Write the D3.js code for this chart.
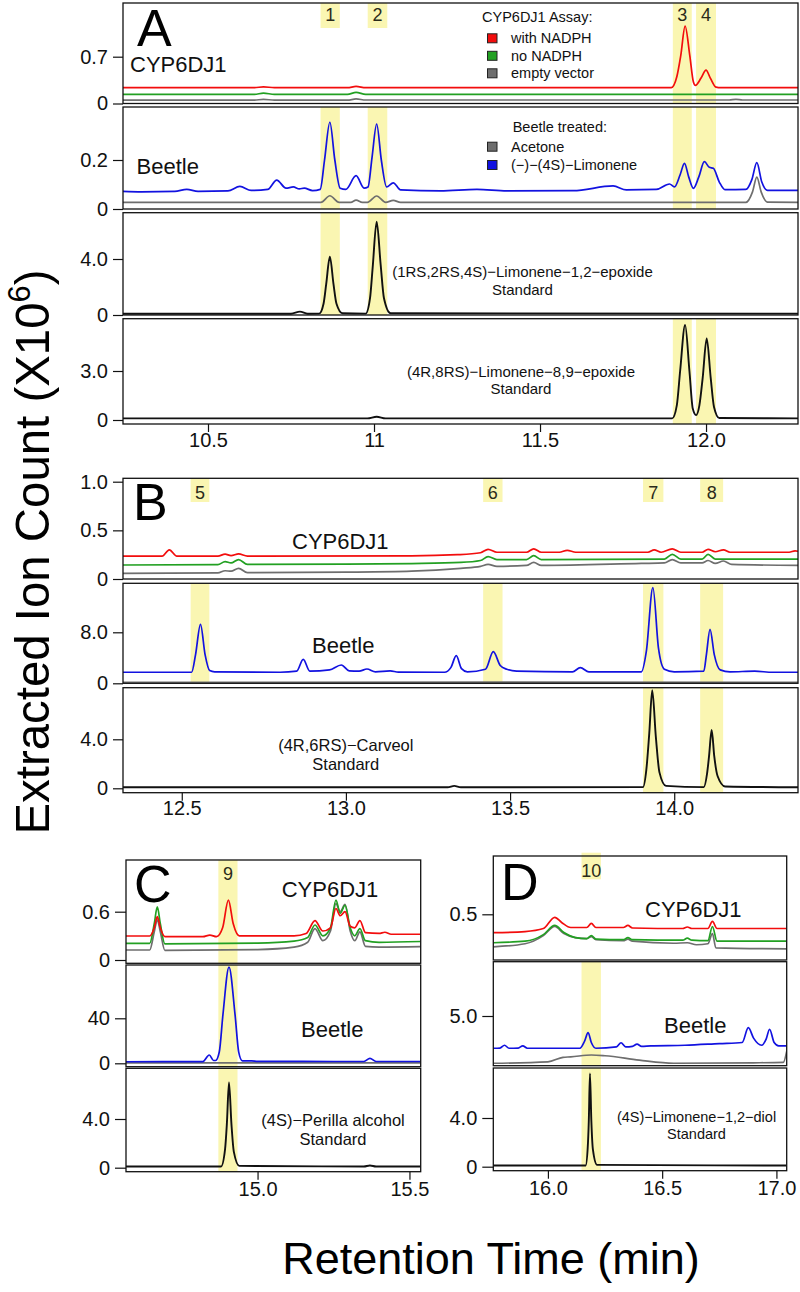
<!DOCTYPE html>
<html><head><meta charset="utf-8">
<script src="https://cdn.jsdelivr.net/npm/d3@7"></script>
<style>body{margin:0;background:#fff}svg{display:block}text{font-family:"Liberation Sans",Arial,Helvetica,sans-serif}</style>
</head><body><svg id="c" width="800" height="1292"></svg>
<script>
// ---------------- DATA ----------------
// x tick values / labels
const xTicksA = [10.5, 11, 11.5, 12.0], xLabA = ["10.5", "11", "11.5", "12.0"];
const xTicksB = [12.5, 13.0, 13.5, 14.0], xLabB = ["12.5", "13.0", "13.5", "14.0"];
const xTicksC = [15.0, 15.5], xLabC = ["15.0", "15.5"];
const xTicksD = [16.0, 16.5, 17.0], xLabD = ["16.0", "16.5", "17.0"];
// y tick values / labels per sub-panel
const yTicksA1 = [0, 0.7], yLabA1 = ["0", "0.7"];
const yTicksA2 = [0, 0.2], yLabA2 = ["0", "0.2"];
const yTicksA3 = [0, 4.0], yLabA3 = ["0", "4.0"];
const yTicksA4 = [0, 3.0], yLabA4 = ["0", "3.0"];
const yTicksB1 = [0, 0.5, 1.0], yLabB1 = ["0", "0.5", "1.0"];
const yTicksB2 = [0, 8.0], yLabB2 = ["0", "8.0"];
const yTicksB3 = [0, 4.0], yLabB3 = ["0", "4.0"];
const yTicksC1 = [0, 0.6], yLabC1 = ["0", "0.6"];
const yTicksC2 = [0, 40], yLabC2 = ["0", "40"];
const yTicksC3 = [0, 4.0], yLabC3 = ["0", "4.0"];
const yTicksD1 = [0.5], yLabD1 = ["0.5"];
const yTicksD2 = [5.0], yLabD2 = ["5.0"];
const yTicksD3 = [0, 4.0], yLabD3 = ["0", "4.0"];

// highlighted peaks: labels and retention-time windows
const bandLabels = ["1", "2", "3", "4", "5", "6", "7", "8", "9", "10"];
const bandStart = [10.839, 10.981, 11.900, 11.970, 12.527, 13.418, 13.905, 14.079, 14.871, 16.147];
const bandEnd   = [10.897, 11.040, 11.957, 12.030, 12.584, 13.477, 13.967, 14.149, 14.934, 16.232];

// legend
const assayNames = ["with NADPH", "no NADPH", "empty vector"];
const beetleNames = ["Acetone", "(\u2212)\u2212(4S)\u2212Limonene"];

// ---- Panel A traces [time (min), ion count (x10^6)] ----
const aCypRed = [[10.244,0.236],[10.64,0.236],[10.667,0.25],[10.70,0.236],[10.92,0.236],[10.946,0.255],[10.975,0.236],[11.895,0.236],[11.912,0.40],[11.924,0.72],[11.937,1.158],[11.951,0.72],[11.962,0.32],[11.968,0.27],[11.985,0.38],[12.0,0.50],[12.013,0.38],[12.03,0.245],[12.045,0.236],[12.277,0.236]];
const aCypGreen = [[10.244,0.137],[10.64,0.137],[10.667,0.155],[10.70,0.137],[10.92,0.137],[10.946,0.165],[10.975,0.137],[12.277,0.137]];
const aCypGray = [[10.244,0.05],[10.64,0.05],[10.667,0.062],[10.70,0.05],[10.92,0.05],[10.946,0.068],[10.975,0.052],[12.07,0.052],[12.09,0.062],[12.11,0.052],[12.277,0.052]];
const aBeetleBlue = [[10.244,0.072],[10.30,0.070],[10.40,0.072],[10.436,0.08],[10.47,0.072],[10.56,0.074],[10.596,0.092],[10.63,0.076],[10.68,0.08],[10.707,0.118],[10.735,0.085],[10.757,0.09],[10.775,0.082],[10.79,0.085],[10.815,0.075],[10.838,0.08],[10.851,0.2],[10.867,0.354],[10.882,0.2],[10.898,0.085],[10.915,0.08],[10.946,0.136],[10.97,0.085],[10.982,0.09],[10.994,0.21],[11.008,0.347],[11.022,0.2],[11.038,0.09],[11.058,0.107],[11.08,0.078],[11.2,0.074],[11.31,0.08],[11.4,0.074],[11.6,0.075],[11.72,0.094],[11.76,0.078],[11.85,0.08],[11.89,0.102],[11.905,0.09],[11.922,0.14],[11.935,0.186],[11.948,0.13],[11.962,0.084],[11.978,0.13],[11.995,0.193],[12.01,0.17],[12.022,0.166],[12.04,0.11],[12.057,0.079],[12.12,0.08],[12.138,0.12],[12.153,0.189],[12.168,0.11],[12.185,0.076],[12.277,0.076]];
const aBeetleGray = [[10.244,0.027],[10.84,0.027],[10.867,0.054],[10.895,0.027],[10.93,0.027],[10.946,0.036],[10.965,0.027],[10.98,0.027],[11.008,0.053],[11.035,0.027],[11.058,0.035],[11.08,0.027],[12.12,0.027],[12.14,0.07],[12.153,0.13],[12.166,0.07],[12.185,0.028],[12.277,0.027]];
const aStd12 = [[10.244,0.09],[10.75,0.09],[10.777,0.24],[10.80,0.09],[10.835,0.1],[10.848,0.8],[10.856,2.2],[10.867,4.16],[10.878,2.2],[10.887,0.8],[10.905,0.12],[10.975,0.1],[10.988,1.2],[10.996,3.4],[11.008,6.66],[11.02,3.6],[11.03,1.2],[11.05,0.12],[12.277,0.1]];
const aStd89 = [[10.244,0.1],[10.98,0.1],[11.008,0.2],[11.035,0.1],[11.898,0.1],[11.912,0.9],[11.922,3.0],[11.937,5.82],[11.95,3.0],[11.96,0.7],[11.970,0.3],[11.98,0.9],[11.99,2.6],[12.002,5.0],[12.014,2.6],[12.024,0.8],[12.04,0.12],[12.277,0.1]];

// ---- Panel B ----
const bCypRed = [[12.321,0.235],[12.44,0.235],[12.462,0.30],[12.485,0.235],[12.61,0.235],[12.632,0.255],[12.65,0.24],[12.673,0.258],[12.70,0.236],[13.2,0.238],[13.34,0.25],[13.41,0.27],[13.433,0.305],[13.46,0.275],[13.55,0.275],[13.572,0.31],[13.595,0.275],[13.65,0.275],[13.674,0.295],[13.70,0.275],[13.92,0.275],[13.939,0.30],[13.96,0.275],[13.994,0.31],[14.02,0.275],[14.085,0.275],[14.103,0.305],[14.125,0.28],[14.15,0.30],[14.17,0.275],[14.35,0.275],[14.368,0.29],[14.377,0.285]];
const bCypGreen = [[12.321,0.144],[12.61,0.148],[12.632,0.178],[12.65,0.165],[12.673,0.20],[12.70,0.15],[13.0,0.152],[13.2,0.158],[13.35,0.17],[13.41,0.19],[13.433,0.23],[13.46,0.20],[13.55,0.20],[13.572,0.24],[13.595,0.20],[13.97,0.205],[13.994,0.254],[14.02,0.205],[14.085,0.205],[14.103,0.254],[14.125,0.205],[14.377,0.205]];
const bCypGray = [[12.321,0.058],[12.61,0.062],[12.632,0.085],[12.65,0.08],[12.673,0.11],[12.70,0.065],[13.0,0.07],[13.2,0.08],[13.35,0.11],[13.41,0.13],[13.433,0.15],[13.46,0.13],[13.55,0.14],[13.572,0.17],[13.595,0.14],[13.9,0.16],[13.97,0.165],[13.994,0.20],[14.02,0.165],[14.085,0.165],[14.103,0.19],[14.125,0.16],[14.15,0.185],[14.175,0.15],[14.377,0.14]];
const bBeetleBlue = [[12.321,1.73],[12.53,1.73],[12.542,4.5],[12.557,9.25],[12.571,4.5],[12.585,2.0],[12.60,1.8],[12.8,1.73],[12.85,1.9],[12.87,3.76],[12.89,1.9],[12.95,2.1],[12.986,2.87],[13.01,1.95],[13.04,1.9],[13.064,2.24],[13.09,1.8],[13.135,1.95],[13.16,1.75],[13.3,1.73],[13.32,2.5],[13.336,4.33],[13.352,2.3],[13.37,1.8],[13.425,2.2],[13.449,4.96],[13.47,2.8],[13.49,2.2],[13.52,1.9],[13.69,1.8],[13.714,2.45],[13.74,1.8],[13.9,1.8],[13.915,5.0],[13.935,15.0],[13.952,5.5],[13.97,2.2],[14.0,1.8],[14.09,1.9],[14.098,4.5],[14.109,8.47],[14.122,4.5],[14.14,2.1],[14.17,1.8],[14.245,1.9],[14.3,1.73],[14.377,1.73]];
const bBeetleGray = [[12.321,0.16],[13.5,0.18],[14.377,0.16]];
const bStdCarveol = [[12.321,0.08],[13.31,0.08],[13.33,0.2],[13.35,0.08],[13.905,0.1],[13.915,1.5],[13.924,4.5],[13.933,8.0],[13.944,4.2],[13.955,1.3],[13.975,0.2],[14.09,0.1],[14.1,1.2],[14.106,2.6],[14.114,4.76],[14.122,2.6],[14.132,1.0],[14.155,0.15],[14.377,0.08]];

// ---- Panel C ----
const cCypRed = [[14.567,0.298],[14.645,0.298],[14.66,0.4],[14.67,0.54],[14.68,0.4],[14.695,0.29],[14.82,0.29],[14.843,0.31],[14.865,0.29],[14.885,0.4],[14.904,0.745],[14.92,0.45],[14.94,0.30],[15.12,0.30],[15.16,0.33],[15.189,0.49],[15.215,0.36],[15.24,0.4],[15.258,0.64],[15.272,0.55],[15.288,0.60],[15.305,0.42],[15.32,0.40],[15.337,0.49],[15.355,0.34],[15.40,0.33],[15.419,0.345],[15.44,0.32],[15.537,0.32]];
const cCypGreen = [[14.567,0.207],[14.645,0.207],[14.66,0.45],[14.67,0.66],[14.68,0.45],[14.695,0.20],[15.0,0.21],[15.12,0.235],[15.165,0.28],[15.189,0.435],[15.215,0.30],[15.24,0.40],[15.258,0.745],[15.272,0.58],[15.288,0.68],[15.305,0.4],[15.32,0.3],[15.337,0.39],[15.355,0.24],[15.40,0.22],[15.537,0.23]];
const cCypGray = [[14.567,0.124],[14.645,0.124],[14.66,0.35],[14.67,0.5],[14.68,0.35],[14.695,0.12],[15.0,0.13],[15.12,0.16],[15.165,0.22],[15.189,0.39],[15.215,0.24],[15.24,0.36],[15.258,0.70],[15.272,0.6],[15.288,0.69],[15.305,0.36],[15.32,0.24],[15.337,0.35],[15.355,0.17],[15.40,0.16],[15.537,0.165]];
const cBeetleBlue = [[14.567,1.4],[14.82,1.5],[14.841,7.4],[14.855,2.5],[14.862,2.5],[14.874,10],[14.886,43],[14.906,85.5],[14.926,43],[14.938,10],[14.95,2.2],[14.98,2.2],[15.0,1.8],[15.25,1.6],[15.35,1.6],[15.37,4.4],[15.39,1.6],[15.537,1.6]];
const cBeetleGray = [[14.567,0.3],[15.537,0.3]];
const cStdPerilla = [[14.567,0.1],[14.88,0.1],[14.893,1.5],[14.899,3.6],[14.906,7.0],[14.914,3.6],[14.922,1.3],[14.94,0.15],[15.35,0.1],[15.37,0.18],[15.39,0.1],[15.537,0.1]];

// ---- Panel D ----
const dCypRed = [[15.761,0.319],[15.9,0.33],[15.98,0.36],[16.03,0.47],[16.06,0.42],[16.1,0.37],[16.17,0.37],[16.19,0.41],[16.21,0.37],[16.33,0.37],[16.35,0.39],[16.37,0.365],[16.59,0.36],[16.61,0.375],[16.63,0.36],[16.70,0.36],[16.72,0.43],[16.74,0.36],[17.045,0.36]];
const dCypGreen = [[15.761,0.22],[15.9,0.235],[15.98,0.30],[16.03,0.39],[16.07,0.32],[16.12,0.27],[16.17,0.26],[16.19,0.29],[16.21,0.255],[16.33,0.25],[16.35,0.27],[16.37,0.25],[16.59,0.245],[16.61,0.265],[16.63,0.245],[16.70,0.24],[16.72,0.38],[16.74,0.235],[17.045,0.235]];
const dCypGray = [[15.761,0.18],[15.9,0.21],[15.98,0.29],[16.03,0.38],[16.07,0.31],[16.12,0.27],[16.17,0.26],[16.19,0.28],[16.21,0.25],[16.33,0.24],[16.35,0.255],[16.37,0.235],[16.55,0.215],[16.61,0.22],[16.65,0.2],[16.70,0.21],[16.72,0.31],[16.735,0.17],[17.045,0.16]];
const dBeetleBlue = [[15.761,2.08],[15.79,2.1],[15.81,2.35],[15.83,2.08],[15.87,2.1],[15.89,2.3],[15.91,2.08],[16.14,2.08],[16.16,2.7],[16.176,3.5],[16.19,2.6],[16.21,2.08],[16.30,2.2],[16.32,2.58],[16.34,2.2],[16.37,2.25],[16.39,2.45],[16.41,2.25],[16.45,2.3],[16.6,2.35],[16.75,2.5],[16.85,2.6],[16.877,3.94],[16.9,3.0],[16.935,2.35],[16.955,2.9],[16.97,3.8],[16.99,2.6],[17.01,2.3],[17.045,2.3]];
const dBeetleGray = [[15.761,0.72],[16.0,0.85],[16.066,1.26],[16.1,1.3],[16.19,1.47],[16.25,1.4],[16.4,1.0],[16.55,0.72],[16.9,0.76],[17.03,0.8],[17.045,1.8]];
const dStdDiol = [[15.761,0.1],[16.165,0.1],[16.174,1.5],[16.179,3.8],[16.184,7.65],[16.19,3.8],[16.197,1.4],[16.215,0.15],[17.045,0.1]];

// ---------------- STYLE / LAYOUT ----------------
const RED = "#f20d0d", GREEN = "#22a022", GRAY = "#6e6e6e", BLUE = "#1212e0", BLACK = "#111", BAND = "#faf6b2";
const FONT = '"Liberation Sans",Arial,Helvetica,sans-serif';

const panels = [
  { letter: "A", lx: 137, ly: 46, x0: 123, x1: 798, dom: [10.244, 12.277], xt: xTicksA, xl: xLabA, pad: 1, tick: 10,
    label: { top: 3, bottom: 28, base: 21 },
    subs: [
      { top: 3, bottom: 103.5, ref: [[0, 103.5], [0.7, 56.7]], yt: yTicksA1, yl: yLabA1,
        traces: [[aCypGray, GRAY], [aCypGreen, GREEN], [aCypRed, RED]] },
      { top: 107, bottom: 209, ref: [[0, 209], [0.2, 160]], yt: yTicksA2, yl: yLabA2,
        traces: [[aBeetleGray, GRAY], [aBeetleBlue, BLUE]] },
      { top: 212.7, bottom: 315, ref: [[0, 315], [4, 259]], yt: yTicksA3, yl: yLabA3,
        traces: [[aStd12, BLACK]] },
      { top: 318.7, bottom: 424, ref: [[0, 420], [3, 371]], yt: yTicksA4, yl: yLabA4,
        traces: [[aStd89, BLACK]] }
    ],
    bands: [[0, true, [1, 2]], [1, true, [1, 2]], [2, false, [0, 1, 3]], [3, false, [0, 1, 3]]],
    texts: [
      { t: "CYP6DJ1", x: 130, y: 71.5, s: 22 },
      { t: "Beetle", x: 136.5, y: 174, s: 22 },
      { t: "(1RS,2RS,4S)\u2212Limonene\u22121,2\u2212epoxide", x: 522.5, y: 277, s: 15, mid: true },
      { t: "Standard", x: 522.5, y: 295, s: 15, mid: true },
      { t: "(4R,8RS)\u2212Limonene\u22128,9\u2212epoxide", x: 521, y: 376.5, s: 15, mid: true },
      { t: "Standard", x: 521, y: 394, s: 15, mid: true }
    ] },
  { letter: "B", lx: 133, ly: 520, x0: 123, x1: 798, dom: [12.321, 14.377], xt: xTicksB, xl: xLabB, pad: 0, tick: 10,
    label: { top: 478.3, bottom: 502, base: 499 },
    subs: [
      { top: 478.3, bottom: 579, ref: [[0, 579], [1, 481.7]], yt: yTicksB1, yl: yLabB1,
        traces: [[bCypGray, GRAY], [bCypGreen, GREEN], [bCypRed, RED]] },
      { top: 583.3, bottom: 683.3, ref: [[0, 683.3], [8, 632.3]], yt: yTicksB2, yl: yLabB2,
        traces: [[bBeetleGray, GRAY], [bBeetleBlue, BLUE]] },
      { top: 687.7, bottom: 792.7, ref: [[0, 788.3], [4, 739.3]], yt: yTicksB3, yl: yLabB3,
        traces: [[bStdCarveol, BLACK]] }
    ],
    bands: [[4, true, [1]], [5, true, [1]], [6, true, [1, 2]], [7, true, [1, 2]]],
    texts: [
      { t: "CYP6DJ1", x: 292, y: 549.3, s: 22 },
      { t: "Beetle", x: 312, y: 652.7, s: 22 },
      { t: "(4R,6RS)\u2212Carveol", x: 345.8, y: 751, s: 16.5, mid: true },
      { t: "Standard", x: 345.8, y: 770, s: 16.5, mid: true }
    ] },
  { letter: "C", lx: 134, ly: 901.5, x0: 126, x1: 420.7, dom: [14.567, 15.537], xt: xTicksC, xl: xLabC, pad: 2, tick: 11,
    label: { top: 860, bottom: 860, base: 880 },
    subs: [
      { top: 860, bottom: 963.3, ref: [[0, 960], [0.6, 911.7]], yt: yTicksC1, yl: yLabC1,
        traces: [[cCypGray, GRAY], [cCypGreen, GREEN], [cCypRed, RED]] },
      { top: 965, bottom: 1066.7, ref: [[0, 1063.3], [40, 1018.3]], yt: yTicksC2, yl: yLabC2,
        traces: [[cBeetleGray, GRAY], [cBeetleBlue, BLUE]] },
      { top: 1068.3, bottom: 1171.7, ref: [[0, 1167.7], [4, 1119]], yt: yTicksC3, yl: yLabC3,
        traces: [[cStdPerilla, BLACK]] }
    ],
    bands: [[8, false, [0, 1, 2]]],
    texts: [
      { t: "CYP6DJ1", x: 281.7, y: 896.7, s: 22 },
      { t: "Beetle", x: 301, y: 1037.3, s: 22 },
      { t: "(4S)\u2212Perilla alcohol", x: 333, y: 1126, s: 16.5, mid: true },
      { t: "Standard", x: 333, y: 1145, s: 16.5, mid: true }
    ] },
  { letter: "D", lx: 501, ly: 900, x0: 493.3, x1: 786.7, dom: [15.761, 17.045], xt: xTicksD, xl: xLabD, pad: 2, tick: 11,
    label: { top: 852.7, bottom: 879.3, base: 876.7 },
    subs: [
      { top: 856, bottom: 960, ref: [[0.05, 960], [0.5, 914.3]], yt: yTicksD1, yl: yLabD1,
        traces: [[dCypGray, GRAY], [dCypGreen, GREEN], [dCypRed, RED]] },
      { top: 961.7, bottom: 1065.7, ref: [[0.5, 1065.7], [5, 1016]], yt: yTicksD2, yl: yLabD2,
        traces: [[dBeetleGray, GRAY], [dBeetleBlue, BLUE]] },
      { top: 1068, bottom: 1170.7, ref: [[0, 1166.7], [4, 1118]], yt: yTicksD3, yl: yLabD3,
        traces: [[dStdDiol, BLACK]] }
    ],
    bands: [[9, true, [1, 2]]],
    texts: [
      { t: "CYP6DJ1", x: 645, y: 916.7, s: 22 },
      { t: "Beetle", x: 664, y: 1033.3, s: 22 },
      { t: "(4S)\u2212Limonene\u22121,2\u2212diol", x: 696.5, y: 1121.7, s: 14.5, mid: true },
      { t: "Standard", x: 696.5, y: 1138.5, s: 14.5, mid: true }
    ] }
];

// ---------------- DRAW ----------------
const svg = d3.select("#c");
const gBand = svg.append("g"), gLine = svg.append("g"), gTop = svg.append("g");
const defs = svg.append("defs");
let clipId = 0;

panels.forEach(p => {
  const x = d3.scaleLinear().domain(p.dom).range([p.x0, p.x1]);
  p.subs.forEach(s => {
    s.y = d3.scaleLinear().domain([s.ref[0][0], s.ref[1][0]]).range([s.ref[0][1], s.ref[1][1]]);
  });
  // highlight bands
  p.bands.forEach(([bi, withLabel, rows]) => {
    const bx0 = x(bandStart[bi]), bx1 = x(bandEnd[bi]);
    if (withLabel && p.label.bottom > p.label.top) {
      gBand.append("rect").attr("x", bx0).attr("width", bx1 - bx0)
        .attr("y", p.label.top).attr("height", p.label.bottom - p.label.top).attr("fill", BAND);
    }
    rows.forEach(r => {
      const s = p.subs[r];
      gBand.append("rect").attr("x", bx0).attr("width", bx1 - bx0)
        .attr("y", s.top).attr("height", s.bottom - s.top).attr("fill", BAND);
    });
    gTop.append("text").attr("x", (bx0 + bx1) / 2).attr("y", p.label.base)
      .attr("text-anchor", "middle").attr("font-size", 18).attr("fill", "#2a2a1a").text(bandLabels[bi]);
  });
  // traces
  p.subs.forEach(s => {
    const id = "clip" + (clipId++);
    defs.append("clipPath").attr("id", id).append("rect")
      .attr("x", p.x0).attr("y", s.top).attr("width", p.x1 - p.x0).attr("height", s.bottom - s.top);
    const line = d3.line().x(d => x(d[0])).y(d => s.y(d[1])).curve(d3.curveMonotoneX);
    const g = gLine.append("g").attr("clip-path", `url(#${id})`);
    s.traces.forEach(([data, col]) => {
      g.append("path").attr("d", line(data)).attr("fill", "none").attr("stroke", col)
        .attr("stroke-width", col === BLACK ? 1.9 : 1.7).attr("stroke-linejoin", "round");
    });
    // frame
    gTop.append("rect").attr("x", p.x0).attr("y", s.top).attr("width", p.x1 - p.x0)
      .attr("height", s.bottom - s.top).attr("fill", "none").attr("stroke", "#111").attr("stroke-width", 1.3);
    // y axis
    const ya = gTop.append("g").attr("transform", `translate(${p.x0},0)`)
      .call(d3.axisLeft(s.y).tickValues(s.yt).tickFormat((d, i) => s.yl[i]).tickSize(p.tick).tickPadding(5));
    ya.select(".domain").remove();
    ya.selectAll("text").attr("font-size", 20).attr("font-family", FONT).attr("fill", "#111");
    ya.selectAll("line").attr("stroke", "#111").attr("stroke-width", 1.2);
  });
  // x axis
  const last = p.subs[p.subs.length - 1];
  const xa = gTop.append("g").attr("transform", `translate(0,${last.bottom})`)
    .call(d3.axisBottom(x).tickValues(p.xt).tickFormat((d, i) => p.xl[i]).tickSize(8).tickPadding(p.pad));
  xa.select(".domain").remove();
  xa.selectAll("text").attr("font-size", 20).attr("font-family", FONT).attr("fill", "#111");
  xa.selectAll("line").attr("stroke", "#111").attr("stroke-width", 1.2);
  // panel letter
  gTop.append("text").attr("x", p.lx).attr("y", p.ly).attr("font-size", 52).attr("fill", "#000").text(p.letter);
  // texts
  p.texts.forEach(t => {
    gTop.append("text").attr("x", t.x).attr("y", t.y).attr("font-size", t.s)
      .attr("text-anchor", t.mid ? "middle" : "start").attr("fill", "#111").text(t.t);
  });
});

// legend
const legendColA = [RED, GREEN, GRAY];
gTop.append("text").attr("x", 482).attr("y", 21.5).attr("font-size", 14.5).attr("fill", "#111").text("CYP6DJ1 Assay:");
assayNames.forEach((n, i) => {
  const cy = 38.3 + i * 17.5;
  gTop.append("rect").attr("x", 487.5).attr("y", cy - 4.5).attr("width", 9.5).attr("height", 9)
    .attr("fill", legendColA[i]).attr("stroke", "#222").attr("stroke-width", 1);
  gTop.append("text").attr("x", 511).attr("y", cy + 5).attr("font-size", 14.5).attr("fill", "#111").text(n);
});
const legendColB = [GRAY, BLUE];
gTop.append("text").attr("x", 512.7).attr("y", 131.5).attr("font-size", 14.5).attr("fill", "#111").text("Beetle treated:");
beetleNames.forEach((n, i) => {
  const cy = 146.7 + i * 18.3;
  gTop.append("rect").attr("x", 487.5).attr("y", cy - 4.5).attr("width", 9.5).attr("height", 9)
    .attr("fill", legendColB[i]).attr("stroke", "#222").attr("stroke-width", 1);
  gTop.append("text").attr("x", 511).attr("y", cy + 5).attr("font-size", 14.5).attr("fill", "#111").text(n);
});

// axis titles
const yt = gTop.append("text").attr("transform", "translate(49,552) rotate(-90)")
  .attr("text-anchor", "middle").attr("font-size", 49).attr("fill", "#000")
  .attr("textLength", 565).attr("lengthAdjust", "spacingAndGlyphs");
yt.append("tspan").text("Extracted Ion Count (X10");
yt.append("tspan").attr("font-size", 32).attr("dy", -19).text("6");
yt.append("tspan").attr("dy", 19).text(")");
gTop.append("text").attr("x", 491).attr("y", 1274).attr("text-anchor", "middle")
  .attr("font-size", 45).attr("fill", "#000").text("Retention Time (min)");
</script></body></html>
